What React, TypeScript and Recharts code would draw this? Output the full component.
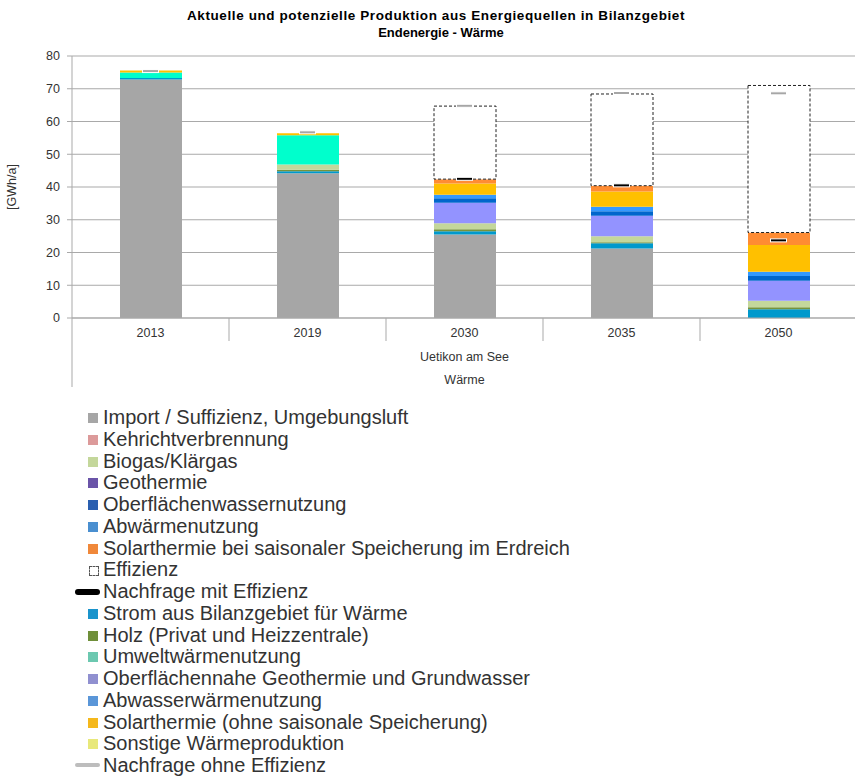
import {
  Bar,
  CartesianGrid,
  ComposedChart,
  Legend,
  Line,
  XAxis,
  YAxis,
} from "recharts";

const years = ["2013", "2019", "2030", "2035", "2050"];

// GWh/a per source, stacked bottom to top
const importSuffizienz = [72.8, 44.2, 25.5, 21.2, 0];
const strom = [0.5, 0.6, 1.0, 1.6, 2.7];
const holz = [0, 0.5, 0.6, 0.3, 0.6];
const biogas = [0, 1.6, 1.8, 1.9, 2.0];
const kehricht = [0, 0, 0, 0, 0];
const geothermie = [0, 0, 0, 0, 0];
const umwelt = [1.7, 8.9, 0, 0, 0];
const oberflaechennah = [0, 0, 6.3, 6.2, 6.1];
const oberflaechenwasser = [0, 0, 1.4, 1.4, 1.4];
const abwaerme = [0, 0, 0, 0, 0];
const abwasser = [0, 0, 1.0, 1.4, 1.3];
const solar = [0.6, 0.6, 3.5, 4.6, 8.2];
const sonstige = [0, 0, 0, 0, 0];
const solarSaisonal = [0, 0, 1.3, 1.8, 3.8];
const effizienz = [null, null, 22.3, 28.0, 44.9];
const nachfrageMit = [null, null, 42.5, 40.5, 23.7];
const nachfrageOhne = [75.4, 56.7, 64.8, 68.7, 68.6];

const yTicks = [0, 10, 20, 30, 40, 50, 60, 70, 80];

const data = years.map((year, i) => ({
  year,
  importSuffizienz: importSuffizienz[i],
  strom: strom[i],
  holz: holz[i],
  biogas: biogas[i],
  kehricht: kehricht[i],
  geothermie: geothermie[i],
  umwelt: umwelt[i],
  oberflaechennah: oberflaechennah[i],
  oberflaechenwasser: oberflaechenwasser[i],
  abwaerme: abwaerme[i],
  abwasser: abwasser[i],
  solar: solar[i],
  sonstige: sonstige[i],
  solarSaisonal: solarSaisonal[i],
  effizienz: effizienz[i],
  nachfrageMit: nachfrageMit[i],
  nachfrageOhne: nachfrageOhne[i],
}));

const stackSeries = [
  { key: "importSuffizienz", color: "#a6a6a6" },
  { key: "strom", color: "#0099cc" },
  { key: "holz", color: "#77933c" },
  { key: "biogas", color: "#c4d79b" },
  { key: "kehricht", color: "#e6b9b8" },
  { key: "geothermie", color: "#7060a8" },
  { key: "umwelt", color: "#00ffcc" },
  { key: "oberflaechennah", color: "#9393ff" },
  { key: "oberflaechenwasser", color: "#0066cc" },
  { key: "abwaerme", color: "#4f93d6" },
  { key: "abwasser", color: "#3399ff" },
  { key: "solar", color: "#ffc000" },
  { key: "sonstige", color: "#e6e66e" },
  { key: "solarSaisonal", color: "#ff8c33" },
];

const legendItems = [
  { name: "Import / Suffizienz, Umgebungsluft", color: "#a6a6a6", kind: "box" },
  { name: "Kehrichtverbrennung", color: "#dc9a9a", kind: "box" },
  { name: "Biogas/Klärgas", color: "#c4d79b", kind: "box" },
  { name: "Geothermie", color: "#6a54a8", kind: "box" },
  { name: "Oberflächenwassernutzung", color: "#2a5fb0", kind: "box" },
  { name: "Abwärmenutzung", color: "#4a8fd0", kind: "box" },
  { name: "Solarthermie bei saisonaler Speicherung im Erdreich", color: "#f0883a", kind: "box" },
  { name: "Effizienz", color: "#000", kind: "dashed" },
  { name: "Nachfrage mit Effizienz", color: "#000", kind: "line" },
  { name: "Strom aus Bilanzgebiet für Wärme", color: "#1a94cc", kind: "box" },
  { name: "Holz (Privat und Heizzentrale)", color: "#6f8f3a", kind: "box" },
  { name: "Umweltwärmenutzung", color: "#6cc8b0", kind: "box" },
  { name: "Oberflächennahe Geothermie und Grundwasser", color: "#9090d0", kind: "box" },
  { name: "Abwasserwärmenutzung", color: "#5a96d8", kind: "box" },
  { name: "Solarthermie (ohne saisonale Speicherung)", color: "#f5b81c", kind: "box" },
  { name: "Sonstige Wärmeproduktion", color: "#e8e87a", kind: "box" },
  { name: "Nachfrage ohne Effizienz", color: "#bdbdbd", kind: "line" },
];

const W = 857;
const H = 776;
const PLOT_TOP = 56;
const PLOT_BOTTOM = 318;
const Y_AXIS_W = 72;
const X_AXIS_H = 82;
const HALF_BAND = (W - Y_AXIS_W) / years.length / 2;
const GRID = "#a9a9a9";
const TEXT = "#333333";

function demandMark(color: string) {
  return (props: any) => {
    const { cx, cy, index } = props;
    if (cy == null || cx == null) return <g key={`m-${index}`} />;
    return (
      <rect
        key={`m-${index}`}
        x={cx - 8}
        y={cy - 1.5}
        width={16}
        height={3}
        fill={color}
        stroke="#fff"
        strokeWidth={1}
      />
    );
  };
}

function YearTick(props: any) {
  const { x, payload, index } = props;
  return (
    <g>
      <text x={x} y={PLOT_BOTTOM + 19} textAnchor="middle" fontSize={12.5} fill={TEXT}>
        {payload.value}
      </text>
      <line x1={x + HALF_BAND} x2={x + HALF_BAND} y1={PLOT_BOTTOM} y2={PLOT_BOTTOM + 23} stroke={GRID} />
      {index === 0 && (
        <line x1={x - HALF_BAND} x2={x - HALF_BAND} y1={PLOT_BOTTOM} y2={PLOT_BOTTOM + 69} stroke={GRID} />
      )}
    </g>
  );
}

function GroupLabel(props: any) {
  const { viewBox } = props;
  const cx = viewBox.x + viewBox.width / 2;
  return (
    <g fontSize={12.5} fill={TEXT}>
      <text x={cx} y={PLOT_BOTTOM + 43} textAnchor="middle">Uetikon am See</text>
      <text x={cx} y={PLOT_BOTTOM + 66} textAnchor="middle">Wärme</text>
    </g>
  );
}

function Swatch({ kind, color }: { kind: string; color: string }) {
  if (kind === "line") {
    return (
      <span
        style={{
          position: "absolute",
          left: 3,
          top: 8,
          width: 25,
          height: color === "#000" ? 6 : 4,
          borderRadius: 3,
          background: color,
        }}
      />
    );
  }
  if (kind === "dashed") {
    return (
      <span
        style={{
          position: "absolute",
          left: 17,
          top: 7,
          width: 8,
          height: 8,
          border: "1px dashed #555",
        }}
      />
    );
  }
  return (
    <span
      style={{ position: "absolute", left: 16, top: 6, width: 10, height: 10, background: color }}
    />
  );
}

function LegendList() {
  return (
    <div style={{ fontSize: 20, lineHeight: "21.75px", color: TEXT }}>
      {legendItems.map((item) => (
        <div key={item.name} style={{ position: "relative", paddingLeft: 31, whiteSpace: "nowrap" }}>
          <Swatch kind={item.kind} color={item.color} />
          {item.name}
        </div>
      ))}
    </div>
  );
}

export default function App() {
  return (
    <div
      style={{
        position: "absolute",
        left: 0,
        top: 0,
        width: 855,
        height: H,
        overflow: "hidden",
        background: "#fff",
        fontFamily: "'Liberation Sans', Arial, sans-serif",
      }}
    >
      <div
        style={{
          position: "absolute",
          left: 0,
          top: 7,
          width: 872,
          textAlign: "center",
          fontWeight: "bold",
          fontSize: 13.5,
          lineHeight: "17px",
          letterSpacing: "0.6px",
          whiteSpace: "nowrap",
          color: "#000",
        }}
      >
        Aktuelle und potenzielle Produktion aus Energiequellen in Bilanzgebiet
      </div>
      <div
        style={{
          position: "absolute",
          left: 0,
          top: 24,
          width: 882,
          textAlign: "center",
          fontWeight: "bold",
          fontSize: 13,
          lineHeight: "17px",
          color: "#000",
        }}
      >
        Endenergie - Wärme
      </div>
      <ComposedChart
        width={W}
        height={H}
        data={data}
        margin={{ top: PLOT_TOP, right: 0, left: 0, bottom: H - PLOT_BOTTOM - X_AXIS_H }}
        barSize={62}
      >
        <CartesianGrid vertical={false} stroke={GRID} />
        <XAxis
          dataKey="year"
          height={X_AXIS_H}
          tickLine={false}
          axisLine={{ stroke: GRID }}
          tick={<YearTick />}
          interval={0}
          label={{ content: <GroupLabel /> }}
        />
        <YAxis
          width={Y_AXIS_W}
          domain={[0, 80]}
          ticks={yTicks}
          interval={0}
          tickSize={5}
          tickMargin={7}
          axisLine={{ stroke: GRID }}
          tickLine={{ stroke: GRID }}
          tick={{ fontSize: 12.5, fill: TEXT }}
          label={{
            value: "[GWh/a]",
            angle: -90,
            position: "insideLeft",
            offset: 12,
            style: { textAnchor: "middle", fontSize: 12.5, fill: TEXT },
          }}
        />
        {stackSeries.map((s) => (
          <Bar key={s.key} dataKey={s.key} stackId="a" fill={s.color} isAnimationActive={false} />
        ))}
        <Bar
          dataKey="effizienz"
          stackId="a"
          fill="#fff"
          stroke="#222"
          strokeWidth={1}
          strokeDasharray="3 2"
          isAnimationActive={false}
        />
        <Line
          dataKey="nachfrageOhne"
          stroke="none"
          dot={demandMark("#a6a6a6")}
          activeDot={false}
          isAnimationActive={false}
        />
        <Line
          dataKey="nachfrageMit"
          stroke="none"
          dot={demandMark("#000")}
          activeDot={false}
          isAnimationActive={false}
        />
        <Legend
          layout="vertical"
          align="center"
          verticalAlign="middle"
          wrapperStyle={{ position: "absolute", left: 72, top: 407, width: 640 }}
          content={<LegendList />}
        />
      </ComposedChart>
    </div>
  );
}
